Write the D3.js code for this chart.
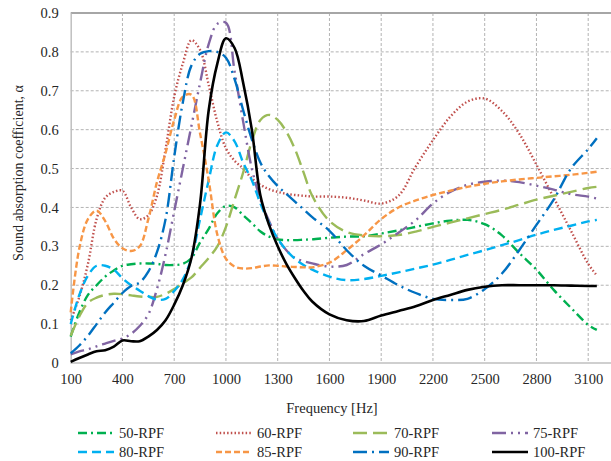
<!DOCTYPE html>
<html>
<head>
<meta charset="utf-8">
<script src="https://cdn.jsdelivr.net/npm/d3@7"></script>
<style>
  body { margin: 0; background: #fff; }
  svg { display: block; font-family: "Liberation Serif", "Times New Roman", serif; }
</style>
</head>
<body>
<div id="chart"></div>
<script>
// frequencies (Hz): 50 Hz steps up to 1500, then 100 Hz
var freqs = [100, 150, 200, 250, 300, 350, 400, 450, 500, 550, 600, 650, 700, 750, 800, 850, 900, 950,
             1000, 1050, 1100, 1150, 1200, 1250, 1300, 1350, 1400, 1450, 1500,
             1600, 1700, 1800, 1900, 2000, 2100, 2200, 2300, 2400, 2500, 2600, 2700, 2800, 2900, 3000, 3100, 3150];

var rpf50 = [0.068, 0.13, 0.175, 0.2, 0.222, 0.238, 0.25, 0.254, 0.256, 0.256, 0.255, 0.252, 0.252, 0.255, 0.27, 0.31, 0.345, 0.385,
             0.404, 0.4, 0.38, 0.36, 0.338, 0.325, 0.318, 0.316, 0.316, 0.317, 0.318,
             0.322, 0.325, 0.326, 0.333, 0.341, 0.35, 0.359, 0.366, 0.368, 0.357, 0.328, 0.283, 0.24, 0.188, 0.142, 0.098, 0.085];
var rpf60 = [0.11, 0.17, 0.255, 0.37, 0.425, 0.44, 0.443, 0.4, 0.37, 0.38, 0.43, 0.55, 0.685, 0.77, 0.83, 0.805, 0.715, 0.62,
             0.552, 0.52, 0.5, 0.475, 0.458, 0.447, 0.44, 0.435, 0.432, 0.43, 0.428,
             0.428, 0.425, 0.418, 0.41, 0.43, 0.505, 0.573, 0.633, 0.672, 0.68, 0.648, 0.59, 0.51, 0.425, 0.34, 0.255, 0.225];
var rpf70 = [0.07, 0.12, 0.155, 0.168, 0.175, 0.178, 0.177, 0.174, 0.171, 0.17, 0.17, 0.178, 0.19, 0.205, 0.22, 0.245, 0.27, 0.3,
             0.35, 0.42, 0.49, 0.57, 0.625, 0.638, 0.625, 0.595, 0.55, 0.49, 0.43,
             0.365, 0.337, 0.328, 0.326, 0.329, 0.338, 0.35, 0.361, 0.372, 0.383, 0.394, 0.407, 0.42, 0.43, 0.44, 0.45, 0.453];
var rpf75 = [0.022, 0.03, 0.035, 0.043, 0.05, 0.057, 0.063, 0.075, 0.095, 0.125, 0.19, 0.28, 0.39, 0.5, 0.61, 0.72, 0.82, 0.872,
             0.875, 0.75, 0.62, 0.5, 0.42, 0.365, 0.32, 0.29, 0.27, 0.262, 0.256,
             0.248, 0.252, 0.28, 0.305, 0.335, 0.367, 0.41, 0.44, 0.458, 0.466, 0.469, 0.465, 0.456, 0.446, 0.434, 0.428, 0.423];
var rpf80 = [0.1, 0.175, 0.225, 0.25, 0.25, 0.24, 0.218, 0.2, 0.186, 0.172, 0.163, 0.165, 0.185, 0.215, 0.27, 0.37, 0.47, 0.56,
             0.593, 0.57, 0.515, 0.47, 0.41, 0.36, 0.32, 0.29, 0.268, 0.252, 0.24,
             0.222, 0.213, 0.216, 0.224, 0.233, 0.243, 0.253, 0.265, 0.278, 0.29, 0.303, 0.316, 0.33, 0.342, 0.353, 0.364, 0.368];
var rpf85 = [0.13, 0.295, 0.37, 0.392, 0.365, 0.32, 0.295, 0.288, 0.3, 0.37, 0.465, 0.54, 0.625, 0.685, 0.69, 0.59, 0.47, 0.33,
             0.268, 0.248, 0.243, 0.244, 0.248, 0.251, 0.25, 0.248, 0.247, 0.246, 0.246,
             0.258, 0.29, 0.328, 0.37, 0.4, 0.418, 0.432, 0.443, 0.453, 0.461, 0.467, 0.472, 0.476, 0.48, 0.484, 0.489, 0.492];
var rpf90 = [0.025, 0.045, 0.07, 0.1, 0.13, 0.155, 0.18, 0.198, 0.207, 0.235, 0.285, 0.37, 0.53, 0.67, 0.765, 0.795, 0.802, 0.8,
             0.785, 0.73, 0.65, 0.575, 0.515, 0.48, 0.455, 0.435, 0.415, 0.395, 0.375,
             0.34, 0.29, 0.25, 0.225, 0.2, 0.18, 0.165, 0.162, 0.165, 0.19, 0.23, 0.29, 0.355, 0.42, 0.5, 0.55, 0.578];
var rpf100 = [0.003, 0.013, 0.022, 0.03, 0.033, 0.042, 0.058, 0.056, 0.056, 0.068, 0.085, 0.11, 0.15, 0.2, 0.27, 0.41, 0.65, 0.77,
              0.835, 0.81, 0.72, 0.6, 0.43, 0.355, 0.3, 0.255, 0.218, 0.185, 0.158,
              0.125, 0.11, 0.108, 0.122, 0.134, 0.146, 0.162, 0.175, 0.188, 0.196, 0.2, 0.2, 0.2, 0.2, 0.199, 0.198, 0.198];

var xTicks = [100, 400, 700, 1000, 1300, 1600, 1900, 2200, 2500, 2800, 3100];
var yTicks = [0, 0.1, 0.2, 0.3, 0.4, 0.5, 0.6, 0.7, 0.8, 0.9];

var series = [
  { name: "50-RPF",  values: rpf50,  color: "#00B050", dash: "9,4,2,4" },
  { name: "60-RPF",  values: rpf60,  color: "#C0504D", dash: "1.5,2.2" },
  { name: "70-RPF",  values: rpf70,  color: "#9BBB59", dash: "14,6" },
  { name: "75-RPF",  values: rpf75,  color: "#8064A2", dash: "14,5,2,5,2,5" },
  { name: "80-RPF",  values: rpf80,  color: "#00B0F0", dash: "9,5" },
  { name: "85-RPF",  values: rpf85,  color: "#F79646", dash: "6,3" },
  { name: "90-RPF",  values: rpf90,  color: "#0070C0", dash: "14,5,2,5" },
  { name: "100-RPF", values: rpf100, color: "#000000", dash: null }
];

var width = 611, height = 461;
var plotLeft = 70.7, plotTop = 13, plotBottom = 363;

var svg = d3.select("#chart").append("svg")
    .attr("width", width)
    .attr("height", height);

var x = d3.scaleLinear().domain([100, 3300]).range([plotLeft, plotLeft + 3200 * 0.1725]);
var y = d3.scaleLinear().domain([0, 0.9]).range([plotBottom, plotTop]);

// grid
svg.append("g").selectAll("line")
    .data(yTicks.filter(function(d){ return d > 0 && d < 0.9; }))
    .enter().append("line")
    .attr("x1", plotLeft).attr("x2", width)
    .attr("y1", function(d){ return y(d); })
    .attr("y2", function(d){ return y(d); })
    .attr("stroke", "#b3b3b3")
    .attr("stroke-dasharray", "3,2");

svg.append("g").selectAll("line")
    .data(xTicks.filter(function(d){ return d > 100; }))
    .enter().append("line")
    .attr("x1", function(d){ return x(d); })
    .attr("x2", function(d){ return x(d); })
    .attr("y1", plotTop).attr("y2", plotBottom)
    .attr("stroke", "#b3b3b3")
    .attr("stroke-dasharray", "3,2");

// top frame
svg.append("line")
    .attr("x1", plotLeft).attr("x2", width)
    .attr("y1", plotTop).attr("y2", plotTop)
    .attr("stroke", "#a6a6a6")
    .attr("stroke-width", 2);

// axes
var xAxis = svg.append("g")
    .attr("transform", "translate(0," + plotBottom + ")")
    .call(d3.axisBottom(x).tickValues(xTicks).tickSize(0).tickPadding(11)
      .tickFormat(d3.format("d")));
xAxis.select(".domain").attr("stroke", "#bfbfbf").attr("stroke-width", 1.5)
    .attr("d", "M" + plotLeft + ",0H" + width);
xAxis.selectAll(".tick text")
    .style("font-family", "Liberation Serif")
    .style("font-size", "14.5px")
    .attr("fill", "#262626");

var yAxis = svg.append("g")
    .attr("transform", "translate(" + plotLeft + ",0)")
    .call(d3.axisLeft(y).tickValues(yTicks).tickSize(0).tickPadding(12)
      .tickFormat(function(d){ return d === 0 ? "0" : d.toFixed(1); }));
yAxis.select(".domain").attr("stroke", "#bfbfbf").attr("stroke-width", 1.5);
yAxis.selectAll(".tick text")
    .style("font-family", "Liberation Serif")
    .style("font-size", "14.5px")
    .attr("fill", "#262626");

// curves
var line = d3.line()
    .x(function(d){ return x(d[0]); })
    .y(function(d){ return y(d[1]); })
    .curve(d3.curveCatmullRom.alpha(0.5));

svg.append("g").selectAll("path")
    .data(series)
    .enter().append("path")
    .attr("fill", "none")
    .attr("stroke", function(d){ return d.color; })
    .attr("stroke-width", function(d){ return d.dash ? 2.4 : 2.6; })
    .attr("stroke-dasharray", function(d){ return d.dash; })
    .attr("d", function(d){
      return line(freqs.map(function(f, i){ return [f, d.values[i]]; }));
    });

// axis titles
svg.append("text")
    .attr("x", 332).attr("y", 413)
    .attr("text-anchor", "middle")
    .style("font-size", "14.5px")
    .attr("fill", "#262626")
    .text("Frequency [Hz]");

svg.append("text")
    .attr("transform", "translate(23,173) rotate(-90)")
    .attr("text-anchor", "middle")
    .style("font-size", "14px")
    .attr("fill", "#262626")
    .text("Sound absorption coefficient, α");

// legend
var colX = [78, 216, 353, 492];
var rowY = [433, 452];
var lg = svg.append("g").selectAll("g")
    .data(series)
    .enter().append("g")
    .attr("transform", function(d, i){
      return "translate(" + colX[i % 4] + "," + rowY[Math.floor(i / 4)] + ")";
    });

lg.append("line")
    .attr("x1", 0).attr("x2", 36)
    .attr("y1", 0).attr("y2", 0)
    .attr("stroke", function(d){ return d.color; })
    .attr("stroke-width", function(d){ return d.dash ? 2.4 : 2.6; })
    .attr("stroke-dasharray", function(d){ return d.dash; });

lg.append("text")
    .attr("x", 41).attr("y", 5)
    .style("font-size", "14.5px")
    .attr("fill", "#262626")
    .text(function(d){ return d.name; });
</script>
</body>
</html>
